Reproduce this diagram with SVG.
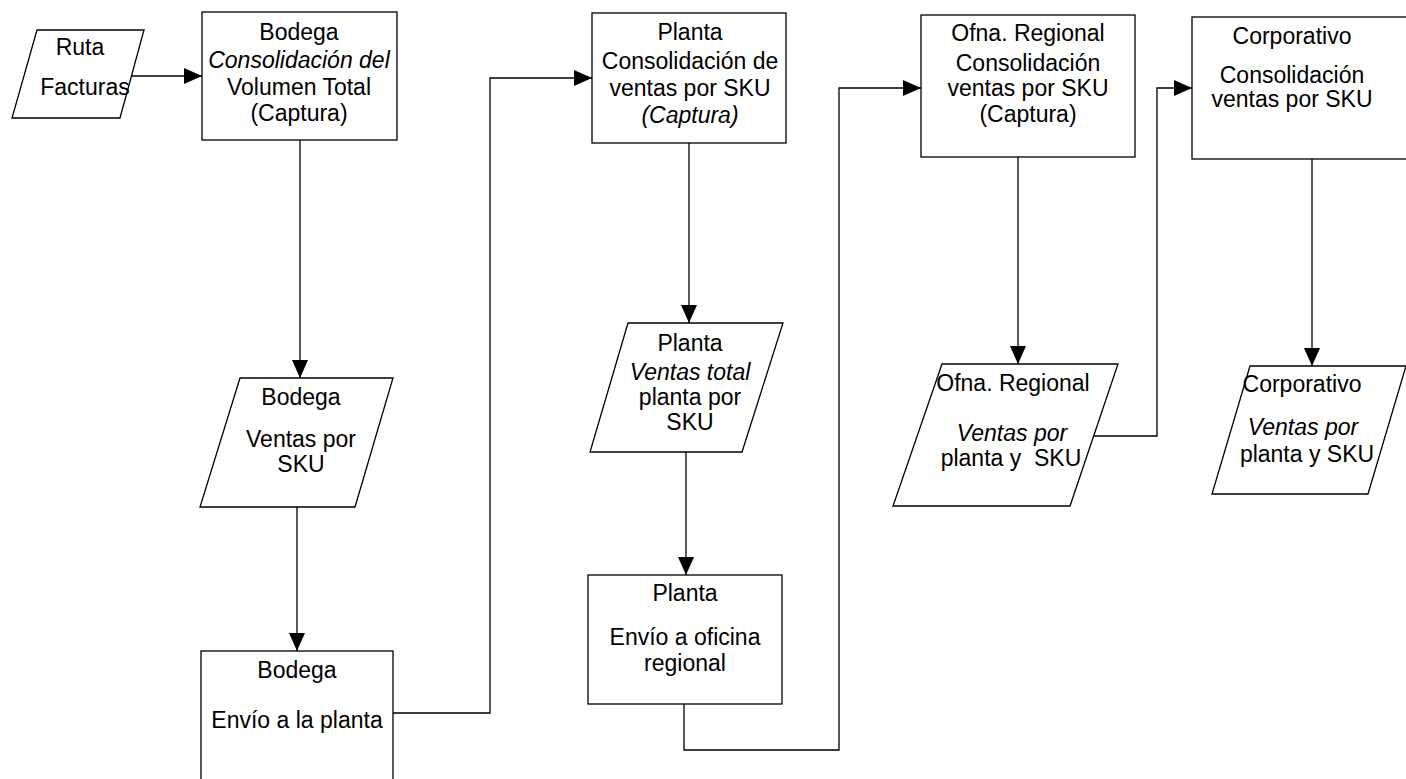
<svg xmlns="http://www.w3.org/2000/svg" width="1406" height="779" viewBox="0 0 1406 779">
  <defs>
    <marker id="arrow" markerUnits="userSpaceOnUse" markerWidth="18" markerHeight="16" refX="18" refY="8" orient="auto">
      <path d="M0,0 L18,8 L0,16 Z" fill="#000"/>
    </marker>
    <style>
      .shape { fill: #fff; stroke: #000; stroke-width: 1.3; }
      .link { fill: none; stroke: #000; stroke-width: 1.3; marker-end: url(#arrow); }
      text { font-family: "Liberation Sans", Arial, sans-serif; font-size: 23px; fill: #000; text-anchor: middle; white-space: pre; }
      .it { font-style: italic; }
    </style>
  </defs>
  <rect width="1406" height="779" fill="#fff"/>

  <!-- connectors -->
  <g id="connectors">
    <path class="link" d="M130,76 L202,76"/>
    <path class="link" d="M300,140 L300,378"/>
    <path class="link" d="M297,507 L297,651"/>
    <path class="link" d="M393,713 L490,713 L490,78 L592,78"/>
    <path class="link" d="M689,143 L689,323"/>
    <path class="link" d="M686,452 L686,575"/>
    <path class="link" d="M684,704 L684,750 L839,750 L839,88 L921,88"/>
    <path class="link" d="M1018,157 L1018,364"/>
    <path class="link" d="M1094,436 L1157,436 L1157,88 L1192,88"/>
    <path class="link" d="M1312,159 L1312,366"/>
  </g>

  <!-- input: route invoices -->
  <g id="ruta">
    <polygon class="shape" points="37,30 144,30 120,118 12,118"/>
    <text x="80" y="55">Ruta</text>
    <text x="85" y="95">Facturas</text>
  </g>

  <!-- warehouse -->
  <g id="bodega-consolidacion">
    <rect class="shape" x="202" y="12" width="195" height="128"/>
    <text x="299" y="40">Bodega</text>
    <text x="299" y="68" class="it">Consolidación del</text>
    <text x="299" y="95">Volumen Total</text>
    <text x="299" y="121">(Captura)</text>
  </g>
  <g id="bodega-ventas">
    <polygon class="shape" points="240,378 393,378 355,507 200,507"/>
    <text x="301" y="405">Bodega</text>
    <text x="301" y="447">Ventas por</text>
    <text x="301" y="472">SKU</text>
  </g>
  <g id="bodega-envio">
    <rect class="shape" x="201" y="651" width="192" height="140"/>
    <text x="297" y="678">Bodega</text>
    <text x="297" y="728">Envío a la planta</text>
  </g>

  <!-- plant -->
  <g id="planta-consolidacion">
    <rect class="shape" x="592" y="13" width="194" height="130"/>
    <text x="690" y="40">Planta</text>
    <text x="690" y="69">Consolidación de</text>
    <text x="690" y="96">ventas por SKU</text>
    <text x="690" y="123" class="it">(Captura)</text>
  </g>
  <g id="planta-ventas">
    <polygon class="shape" points="628,323 783,323 742,452 590,452"/>
    <text x="690" y="351">Planta</text>
    <text x="690" y="380" class="it">Ventas total</text>
    <text x="690" y="405">planta por</text>
    <text x="690" y="430">SKU</text>
  </g>
  <g id="planta-envio">
    <rect class="shape" x="588" y="575" width="194" height="129"/>
    <text x="685" y="601">Planta</text>
    <text x="685" y="645">Envío a oficina</text>
    <text x="685" y="671">regional</text>
  </g>

  <!-- regional office -->
  <g id="ofna-consolidacion">
    <rect class="shape" x="921" y="15" width="214" height="142"/>
    <text x="1028" y="41">Ofna. Regional</text>
    <text x="1028" y="71">Consolidación</text>
    <text x="1028" y="96">ventas por SKU</text>
    <text x="1028" y="122">(Captura)</text>
  </g>
  <g id="ofna-ventas">
    <polygon class="shape" points="942,364 1118,364 1070,506 893,506"/>
    <text x="1013" y="391">Ofna. Regional</text>
    <text x="1012" y="441" class="it">Ventas por</text>
    <text x="1011" y="466">planta y  SKU</text>
  </g>

  <!-- head office -->
  <g id="corporativo-consolidacion">
    <rect class="shape" x="1192" y="17" width="230" height="142"/>
    <text x="1292" y="44">Corporativo</text>
    <text x="1292" y="83">Consolidación</text>
    <text x="1292" y="107">ventas por SKU</text>
  </g>
  <g id="corporativo-ventas">
    <polygon class="shape" points="1250,366 1406,366 1368,494 1212,494"/>
    <text x="1302" y="392">Corporativo</text>
    <text x="1303" y="435" class="it">Ventas por</text>
    <text x="1307" y="462">planta y SKU</text>
  </g>
</svg>
